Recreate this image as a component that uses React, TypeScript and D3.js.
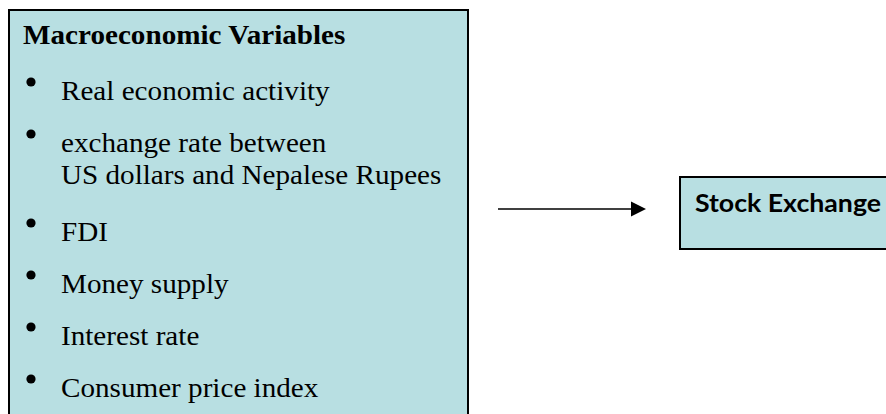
import * as d3 from 'd3';
import React, { useRef, useEffect, useCallback } from 'react';

const title = "Macroeconomic Variables";
const variables = [
    ["Real economic activity"],
    ["exchange rate between", "US dollars and Nepalese Rupees"],
    ["FDI"],
    ["Money supply"],
    ["Interest rate"],
    ["Consumer price index"]
];
const target = "Stock Exchange";

const WIDTH = 886;
const HEIGHT = 414;
const FILL = "#b8dfe2";
const SERIF = "'Liberation Serif', 'Times New Roman', serif";

function App() {
    const ref = useRef<SVGSVGElement>(null);

    const draw = useCallback(() => {
        const svg = d3.select(ref.current);
        svg.selectAll("*").remove();
        svg.attr("viewBox", [0, 0, WIDTH, HEIGHT].join(" "));

        // left box (runs off the bottom of the picture)
        svg.append("rect")
            .attr("x", 9).attr("y", 10)
            .attr("width", 459).attr("height", 420)
            .attr("fill", FILL)
            .attr("stroke", "#000")
            .attr("stroke-width", 2);

        // the source is slightly stretched sideways
        const stretch = 1.06;

        svg.append("text")
            .attr("transform", `translate(23,44) scale(${stretch},1)`)
            .attr("font-family", SERIF)
            .attr("font-weight", "bold")
            .attr("font-size", 27.5)
            .attr("fill", "#000")
            .text(title);

        // baseline of each item: paragraph step + extra wrapped lines
        const step = 52, extra = 37, lineGap = 32;
        let extraLines = 0;
        const rows = variables.map((lines, i) => {
            const y = 100 + i * step + extraLines * extra;
            extraLines += lines.length - 1;
            return { lines, y };
        });

        const row = svg.append("g")
            .attr("font-family", SERIF)
            .attr("font-size", 27.5)
            .attr("fill", "#000")
            .selectAll("g")
            .data(rows)
            .join("g");

        row.append("circle")
            .attr("cx", 31)
            .attr("cy", d => d.y - 18)
            .attr("r", 4.6)
            .attr("fill", "#000");

        row.append("text")
            .attr("transform", d => `translate(61,${d.y}) scale(${stretch},1)`)
            .selectAll("tspan")
            .data(d => d.lines)
            .join("tspan")
            .attr("x", 0)
            .attr("dy", (d, i) => i === 0 ? 0 : lineGap)
            .text(d => d);

        // arrow
        const ay = 209;
        svg.append("line")
            .attr("x1", 498).attr("x2", 633)
            .attr("y1", ay).attr("y2", ay)
            .attr("stroke", "#000")
            .attr("stroke-width", 1.6);
        svg.append("path")
            .attr("d", d3.line()([[631, ay - 7.5], [646, ay], [631, ay + 7.5]]) + "Z")
            .attr("fill", "#000");

        // right box (runs off the right edge)
        svg.append("rect")
            .attr("x", 680).attr("y", 177)
            .attr("width", 230).attr("height", 72)
            .attr("fill", FILL)
            .attr("stroke", "#000")
            .attr("stroke-width", 2);

        svg.append("text")
            .attr("x", 695).attr("y", 212)
            .attr("font-family", "Lato, 'Open Sans', sans-serif")
            .attr("font-weight", "bold")
            .attr("font-size", 25)
            .attr("fill", "#000")
            .attr("textLength", 186)
            .attr("lengthAdjust", "spacingAndGlyphs")
            .text(target);
    }, []);

    useEffect(() => {
        draw();
    }, [draw]);

    return (
        <svg ref={ref} width={WIDTH} height={HEIGHT}
            style={{ position: "absolute", left: 0, top: 0, display: "block", background: "#fff" }}>
        </svg>
    );
}

export default App;
